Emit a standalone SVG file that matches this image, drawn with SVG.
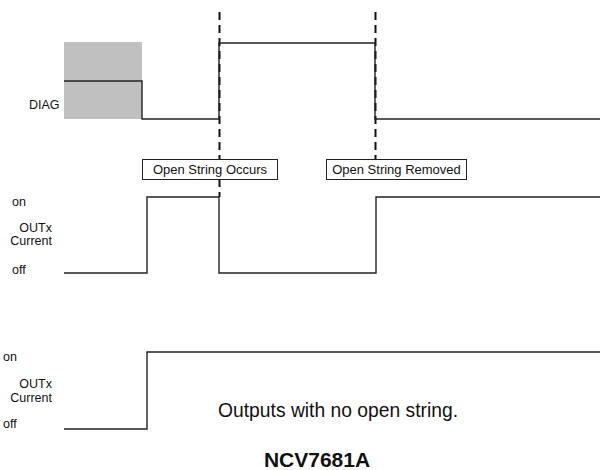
<svg xmlns="http://www.w3.org/2000/svg" width="600" height="470" viewBox="0 0 600 470">
<style>
text{font-family:"Liberation Sans",Arial,sans-serif;fill:#111}
.lbl{font-size:12.5px}
.r{text-anchor:end}
.wave{fill:none;stroke:#222;stroke-width:1.4}
.dash{fill:none;stroke:#111;stroke-width:2;stroke-dasharray:8,5}
.box{fill:#fff;stroke:#222;stroke-width:1}
</style>
<rect x="64" y="42" width="78" height="77" fill="#c0c0c0"/>
<g id="labels">
<text class="lbl" x="29" y="109">DIAG</text>
<text class="lbl" x="12" y="206">on</text>
<text class="lbl r" x="52" y="232">OUTx</text>
<text class="lbl r" x="52" y="245">Current</text>
<text class="lbl" x="12" y="274">off</text>
<text class="lbl" x="3" y="361">on</text>
<text class="lbl r" x="52" y="388">OUTx</text>
<text class="lbl r" x="52" y="402">Current</text>
<text class="lbl" x="3" y="428">off</text>
</g>
<g id="connectors">
<path class="dash" d="M219.5 12V159M219.5 179V197"/>
<path class="dash" d="M375.5 12V159"/>
</g>
<g id="diag">
<path class="wave" d="M64 81H142V119H219V43H375V119H600"/>
</g>
<g id="outx1">
<path class="wave" d="M64 273H147V197H219V273H376V197H600"/>
</g>
<g id="outx2">
<path class="wave" d="M64 429H147V352H600"/>
</g>
<g id="occurs">
<rect class="box" x="142.5" y="159.5" width="135" height="20"/>
<text x="210" y="174" font-size="13" text-anchor="middle">Open String Occurs</text>
</g>
<g id="removed">
<rect class="box" x="326.5" y="159.5" width="140" height="20"/>
<text x="396.5" y="174" font-size="13" text-anchor="middle">Open String Removed</text>
</g>
<text x="218" y="417" font-size="19.3">Outputs with no open string.</text>
<text x="317" y="467" font-size="21" font-weight="bold" text-anchor="middle">NCV7681A</text>
</svg>
